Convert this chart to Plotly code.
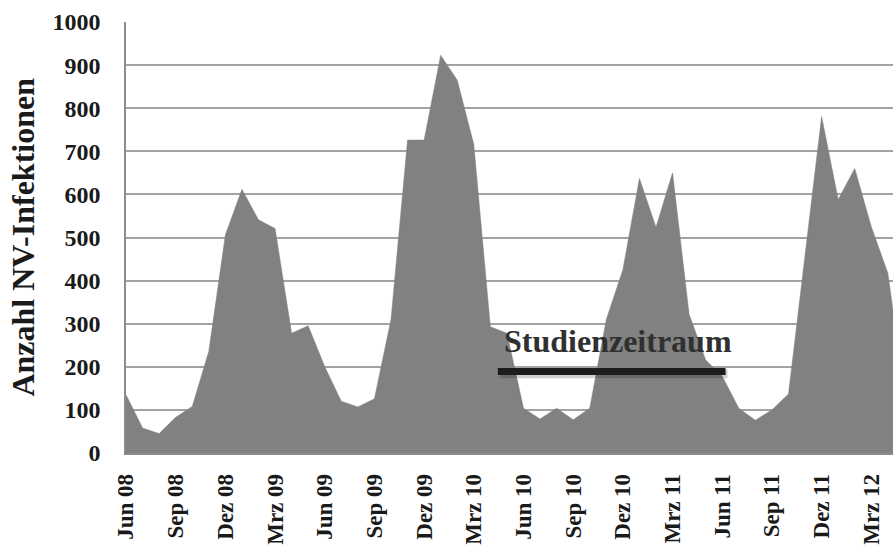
import plotly.graph_objects as go

# Monthly norovirus infection counts, Jun 2008 .. Mai 2012 (index 0 = Jun 08)
months_idx = list(range(48))
infektionen = [
    135, 58, 45, 83, 108, 236, 506, 612, 541, 521, 278, 295,
    200, 120, 107, 126, 310, 726, 726, 923, 865, 716, 293, 278,
    104, 79, 104, 77, 104, 310, 425, 637, 524, 650, 322, 216,
    178, 104, 76, 100, 137, 455, 781, 588, 660, 525, 417, 140,
]
tick_positions = [0, 3, 6, 9, 12, 15, 18, 21, 24, 27, 30, 33, 36, 39, 42, 45]
tick_labels = ["Jun 08", "Sep 08", "Dez 08", "Mrz 09", "Jun 09", "Sep 09",
               "Dez 09", "Mrz 10", "Jun 10", "Sep 10", "Dez 10", "Mrz 11",
               "Jun 11", "Sep 11", "Dez 11", "Mrz 12"]
y_ticks = [0, 100, 200, 300, 400, 500, 600, 700, 800, 900, 1000]

# Study period bar (in month-index units) and its level
study_start = 22.45
study_end = 36.2
study_level = 189
study_label = "Studienzeitraum"

FONT = "Liberation Serif"

fig = go.Figure()
fig.add_trace(go.Scatter(
    x=months_idx, y=infektionen, mode="lines",
    fill="tozeroy", fillcolor="#818181",
    line=dict(color="#818181", width=0.5),
    hoverinfo="x+y", showlegend=False,
))

# shadow of the bar
fig.add_shape(type="line", xref="x", yref="y",
              x0=study_start + 0.12, x1=study_end + 0.12,
              y0=study_level - 5, y1=study_level - 5,
              line=dict(color="rgba(0,0,0,0.18)", width=9))
fig.add_shape(type="line", xref="x", yref="y",
              x0=study_start, x1=study_end, y0=study_level, y1=study_level,
              line=dict(color="#1c1c1c", width=7))
fig.add_annotation(x=(study_start + study_end) / 2 + 0.4, y=study_level + 24,
                   xref="x", yref="y", text="<b>" + study_label + "</b>",
                   showarrow=False, yanchor="bottom",
                   font=dict(family=FONT, size=32, color="#303030"))

fig.add_annotation(x=-0.1355, y=0.5, xref="paper", yref="paper",
                   text="<b>Anzahl NV-Infektionen</b>", textangle=-90,
                   showarrow=False, xanchor="center", yanchor="middle",
                   font=dict(family=FONT, size=32, color="#1a1a1a"))

fig.update_layout(
    width=893, height=549,
    margin=dict(l=126, r=0, t=22, b=96),
    paper_bgcolor="white", plot_bgcolor="white",
    font=dict(family=FONT, color="#1a1a1a"),
    xaxis=dict(
        range=[0, 46.31], tickmode="array",
        tickvals=tick_positions,
        ticktext=["<b>" + t + "</b>" for t in tick_labels],
        tickangle=-90, tickfont=dict(family=FONT, size=23, color="#1a1a1a"),
        showgrid=False, zeroline=False,
        showline=True, linecolor="#8c8c8c", linewidth=1.5,
        ticks="", ticklabelstandoff=10,
    ),
    yaxis=dict(
        range=[0, 1000], tickmode="array", tickvals=y_ticks,
        ticktext=["<b>%d</b>" % v for v in y_ticks],
        tickfont=dict(family=FONT, size=24, color="#1a1a1a"),
        showgrid=True, gridcolor="#a3a3a3", gridwidth=1.5,
        zeroline=False, showline=True, linecolor="#8c8c8c", linewidth=1.5,
        ticks="", ticklabelstandoff=19,
    ),
)

# remove the default page margin so the 893x549 figure fills the window exactly
fig.write_html(
    "out.html",
    config={"displayModeBar": False},
    post_script="document.body.style.margin='0';document.body.style.overflow='hidden';",
)
